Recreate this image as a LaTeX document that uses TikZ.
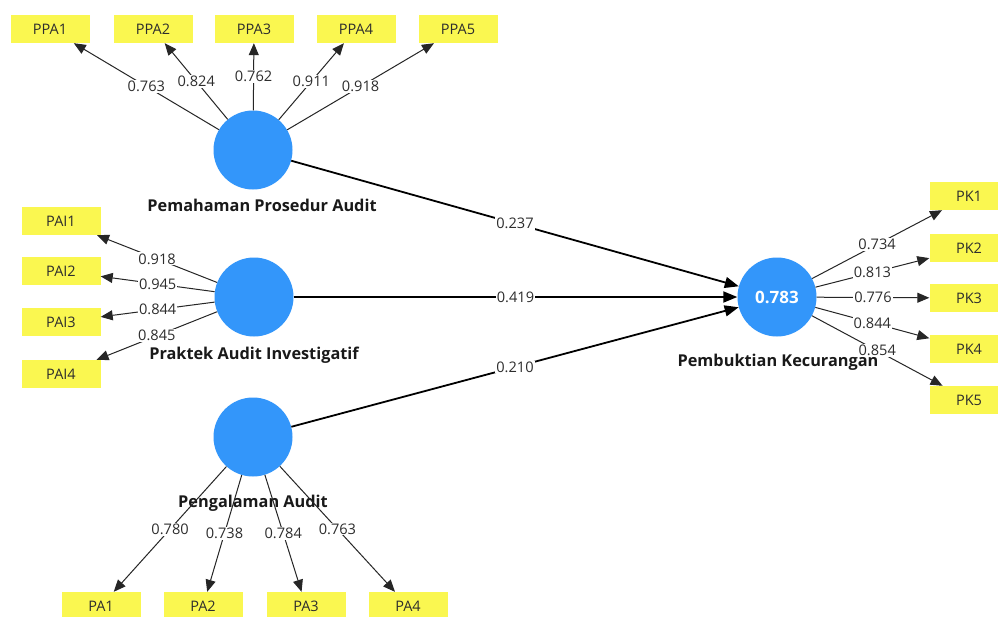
\documentclass[tikz,border=0pt]{standalone}
\usepackage{fontspec}
\setmainfont{Open Sans}
\usetikzlibrary{arrows.meta}
\definecolor{lvblue}{RGB}{51,150,250}
\definecolor{mvyellow}{RGB}{250,247,80}
\definecolor{numgray}{RGB}{45,45,45}
\begin{document}
\begin{tikzpicture}[x=1pt,y=-1pt,
 lv/.style={circle,fill=lvblue,minimum size=79pt,inner sep=0pt},
 mv/.style={rectangle,fill=mvyellow,minimum width=79pt,minimum height=28pt,inner sep=0pt,font=\fontsize{14.5}{15}\selectfont,text=numgray},
 lvname/.style={font=\bfseries\fontsize{16.3}{17}\selectfont,text=black!90,inner sep=0pt},
 coef/.style={fill=white,inner sep=1pt,font=\fontsize{14.6}{15}\selectfont,text=numgray},
 meas/.style={line width=1pt,draw=black!85,-{Triangle[length=12pt,width=10pt]}},
 struct/.style={line width=1.8pt,-{Triangle[length=14pt,width=11pt]}},
]
\useasboundingbox (0,0) rectangle (998,616);
\clip (0,0) rectangle (998,616);
\fill[white] (0,0) rectangle (998,616);

% latent variables
\node[lv] (ppa) at (253,150) {};
\node[lv] (pai) at (254,297) {};
\node[lv] (pa)  at (253,437) {};
\node[lv,text=white,font=\bfseries\fontsize{17}{18}\selectfont] (pk) at (777,297) {0.783};

% names
\node[lvname] (nppa) at (262,205) {Pemahaman Prosedur Audit};
\node[lvname] (npai) at (254,355) {Praktek Audit Investigatif};
\node[lvname] (npa)  at (253,503) {Pengalaman Audit};
\node[lvname] (npk)  at (778,362) {Pembuktian Kecurangan};

% indicators
\node[mv] (ppa1) at (50,29) {PPA1};
\node[mv] (ppa2) at (153,29) {PPA2};
\node[mv] (ppa3) at (254,29) {PPA3};
\node[mv] (ppa4) at (356,29) {PPA4};
\node[mv] (ppa5) at (458,29) {PPA5};

\node[mv] (pai1) at (61,221) {PAI1};
\node[mv] (pai2) at (61,271) {PAI2};
\node[mv] (pai3) at (61,322) {PAI3};
\node[mv] (pai4) at (61,374) {PAI4};

\node[mv] (pa1) at (101,606) {PA1};
\node[mv] (pa2) at (203,606) {PA2};
\node[mv] (pa3) at (306,606) {PA3};
\node[mv] (pa4) at (408,606) {PA4};

\node[mv] (pk1) at (969,196) {PK1};
\node[mv] (pk2) at (969,248) {PK2};
\node[mv] (pk3) at (969,298) {PK3};
\node[mv] (pk4) at (969,349) {PK4};
\node[mv] (pk5) at (969,400) {PK5};

% structural paths
\draw[struct] (ppa) -- node[coef] {0.237} (pk);
\draw[struct] (pai) -- node[coef] {0.419} (pk);
\draw[struct] (pa)  -- node[coef] {0.210} (pk);

% outer loadings
\draw[meas] (ppa) -- node[coef] {0.763} (ppa1);
\draw[meas] (ppa) -- node[coef] {0.824} (ppa2);
\draw[meas] (ppa) -- node[coef] {0.762} (ppa3);
\draw[meas] (ppa) -- node[coef] {0.911} (ppa4);
\draw[meas] (ppa) -- node[coef] {0.918} (ppa5);

\draw[meas] (pai) -- node[coef] {0.918} (pai1);
\draw[meas] (pai) -- node[coef] {0.945} (pai2);
\draw[meas] (pai) -- node[coef] {0.844} (pai3);
\draw[meas] (pai) -- node[coef] {0.845} (pai4);

\draw[meas] (pa) -- node[coef] {0.780} (pa1);
\draw[meas] (pa) -- node[coef] {0.738} (pa2);
\draw[meas] (pa) -- node[coef] {0.784} (pa3);
\draw[meas] (pa) -- node[coef] {0.763} (pa4);

\draw[meas] (pk) -- node[coef] {0.734} (pk1);
\draw[meas] (pk) -- node[coef] {0.813} (pk2);
\draw[meas] (pk) -- node[coef] {0.776} (pk3);
\draw[meas] (pk) -- node[coef] {0.844} (pk4);
\draw[meas] (pk) -- node[coef] {0.854} (pk5);
\end{tikzpicture}
\end{document}
